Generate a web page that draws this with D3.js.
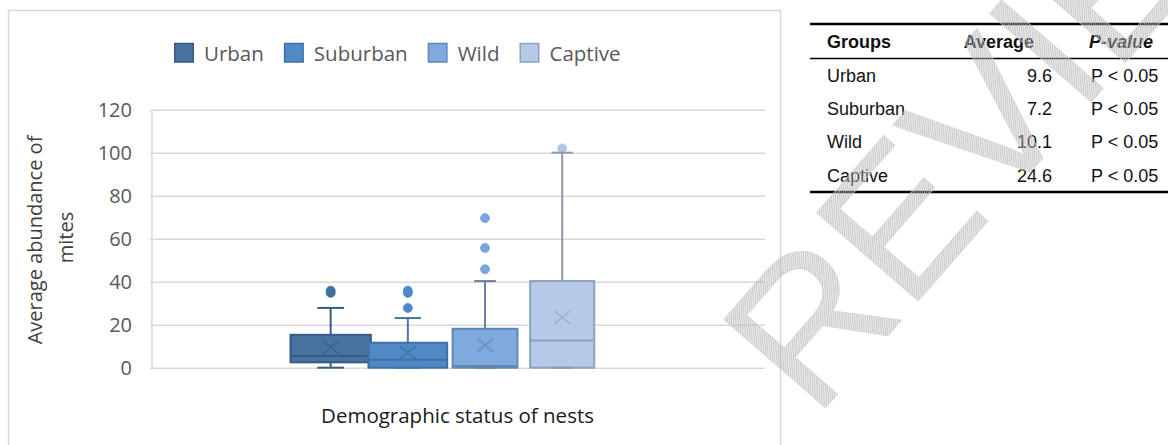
<!DOCTYPE html>
<html>
<head>
<meta charset="utf-8">
<script src="https://cdn.jsdelivr.net/npm/d3@7"></script>
<style>
  html, body { margin: 0; padding: 0; background: #fff; }
  svg { display: block; }
</style>
</head>
<body>
<svg id="chart" width="1168" height="445"></svg>
<script>
// ---------------- DATA ----------------
const categories   = ["Urban", "Suburban", "Wild", "Captive"];
const whiskerLow   = [0, 0, 0, 0];
const q1           = [2.5, 0, 0, 0];
const median       = [5.4, 3.7, 0.8, 12.6];
const q3           = [15.3, 11.6, 18.1, 40.3];
const whiskerHigh  = [27.8, 23.1, 40.3, 100];
const means        = [9.6, 7.0, 10.5, 23.4];
const outliers     = [[34.8, 35.8], [27.8, 34.8, 35.8], [45.8, 55.7, 69.6], [102]];
const yTicks       = [0, 20, 40, 60, 80, 100, 120];
const yTitleLines  = ["Average abundance of", "mites"];
const xTitle       = "Demographic status of nests";
const tableHeader  = ["Groups", "Average", "P-value"];
const tableAverages = ["9.6", "7.2", "10.1", "24.6"];
const tablePValues  = ["P < 0.05", "P < 0.05", "P < 0.05", "P < 0.05"];
const watermarkText = "REVIEW";

// ---------------- STYLE ----------------
const fills    = ["#46749f", "#4f8ac7", "#7eaadd", "#b5cae7"];
const strokes  = ["#335b86", "#3e70a4", "#6087b6", "#8da2bf"];
const whiskerC = ["#385d86", "#4a76a4", "#6a839f", "#8f9aa6"];
const meanC    = ["#3a6391", "#4373a9", "#6891c3", "#9bb1d0"];
const outFill  = ["#416f9c", "#4f88c4", "#79a5d8", "#b2c7e4"];
const boxWidthFactor = [1.04, 1.02, 0.84, 0.83];

const svg = d3.select("#chart");

// hatch pattern for watermark
const defs = svg.append("defs");
const pat = defs.append("pattern")
  .attr("id", "hatch").attr("patternUnits", "userSpaceOnUse")
  .attr("width", 3).attr("height", 3);
pat.append("path").attr("d", "M-1,1 L1,-1 M0,3 L3,0 M2,4 L4,2")
  .attr("stroke", "#b8b8b8").attr("stroke-width", 1.1);

// chart frame
svg.append("path")
  .attr("d", "M8.5,460 V10.5 H780.5 V460")
  .attr("fill", "none").attr("stroke", "#d9d9d9").attr("stroke-width", 1.5);

// plot area
const plot = { left: 150, right: 765, top: 110, bottom: 368 };
const plotW = plot.right - plot.left;

const y = d3.scaleLinear().domain([0, 120]).range([plot.bottom - 0.3, plot.top - 0.3]);
const x = d3.scaleBand().domain(categories)
  .range([plot.left + plotW * 0.231, plot.left + plotW * 0.733])
  .paddingInner(0).paddingOuter(0);

// y axis + gridlines
const yAxisG = svg.append("g").attr("transform", `translate(${plot.left},0)`)
  .call(d3.axisLeft(y).tickValues(yTicks).tickSize(-plotW).tickSizeOuter(0).tickPadding(18).tickFormat(d3.format("d")));
yAxisG.select(".domain").attr("stroke", "#d9d9d9").attr("stroke-width", 1.5).attr("transform", "translate(1.5,0)");
yAxisG.selectAll(".tick line").attr("stroke", "#d9d9d9").attr("stroke-width", 1.6);
yAxisG.selectAll(".tick text")
  .attr("fill", "#595959").attr("font-family", "'Open Sans', sans-serif").attr("font-size", 20);

// y title
const yTitle = svg.append("g").attr("transform", "translate(0,240)");
yTitle.append("text").text(yTitleLines[0])
  .attr("transform", "translate(41.5,0) rotate(-90)")
  .attr("text-anchor", "middle").attr("font-family", "'Open Sans', sans-serif")
  .attr("font-size", 20).attr("fill", "#404040");
yTitle.append("text").text(yTitleLines[1])
  .attr("transform", "translate(73,-2.5) rotate(-90)")
  .attr("text-anchor", "middle").attr("font-family", "'Open Sans', sans-serif")
  .attr("font-size", 20).attr("fill", "#404040");

// x title
svg.append("text").text(xTitle)
  .attr("x", (plot.left + plot.right) / 2).attr("y", 423)
  .attr("text-anchor", "middle").attr("font-family", "'Open Sans', sans-serif")
  .attr("font-size", 20.5).attr("fill", "#1a1a1a");

// boxes
const boxes = svg.append("g");
categories.forEach((c, i) => {
  const cx = x(c) + x.bandwidth() / 2;
  const bw = x.bandwidth() * boxWidthFactor[i];
  const capW = bw / 3;
  const g = boxes.append("g");
  g.append("line").attr("x1", cx).attr("x2", cx)
    .attr("y1", y(whiskerHigh[i])).attr("y2", y(q3[i]))
    .attr("stroke", whiskerC[i]).attr("stroke-width", 2);
  g.append("line").attr("x1", cx).attr("x2", cx)
    .attr("y1", y(q1[i])).attr("y2", y(whiskerLow[i]))
    .attr("stroke", whiskerC[i]).attr("stroke-width", 2);
  g.append("rect")
    .attr("x", cx - bw / 2).attr("width", bw)
    .attr("y", y(q3[i])).attr("height", y(q1[i]) - y(q3[i]))
    .attr("fill", fills[i]).attr("stroke", strokes[i]).attr("stroke-width", 2);
  g.append("line").attr("x1", cx - bw / 2).attr("x2", cx + bw / 2)
    .attr("y1", y(median[i])).attr("y2", y(median[i]))
    .attr("stroke", strokes[i]).attr("stroke-width", 2);
  const my = y(means[i]);
  g.append("path")
    .attr("d", `M${cx - 8},${my - 6.5} L${cx + 8},${my + 6.5} M${cx - 8},${my + 6.5} L${cx + 8},${my - 6.5}`)
    .attr("stroke", meanC[i]).attr("stroke-width", 1.6).attr("fill", "none");
  outliers[i].forEach(v => {
    g.append("circle").attr("cx", cx).attr("cy", y(v)).attr("r", 4.5)
      .attr("fill", outFill[i]).attr("stroke", outFill[i]).attr("stroke-width", 0.8);
  });
  g.append("line").attr("x1", cx - capW / 2).attr("x2", cx + capW / 2)
    .attr("y1", y(whiskerHigh[i])).attr("y2", y(whiskerHigh[i]))
    .attr("stroke", whiskerC[i]).attr("stroke-width", 2);
  g.append("line").attr("x1", cx - capW / 2).attr("x2", cx + capW / 2)
    .attr("y1", y(whiskerLow[i])).attr("y2", y(whiskerLow[i]))
    .attr("stroke", whiskerC[i]).attr("stroke-width", 2);
});

// legend
const legend = svg.append("g");
let lx = 174;
categories.forEach((c, i) => {
  legend.append("rect").attr("x", lx + 0.75).attr("y", 43.5).attr("width", 18.5).attr("height", 18.5)
    .attr("fill", fills[i]).attr("stroke", strokes[i]).attr("stroke-width", 1.5);
  const t = legend.append("text").text(c).attr("x", lx + 30).attr("y", 60.5)
    .attr("font-family", "'Open Sans', sans-serif").attr("font-size", 20.5).attr("fill", "#595959");
  lx = lx + 30 + t.node().getComputedTextLength() + 20;
});

// table
const tbl = svg.append("g").attr("font-family", "'Liberation Sans', Arial, sans-serif")
  .attr("font-size", 18).attr("fill", "#111");
tbl.append("line").attr("x1", 810).attr("x2", 1168).attr("y1", 24).attr("y2", 24)
  .attr("stroke", "#000").attr("stroke-width", 2.5);
tbl.append("line").attr("x1", 810).attr("x2", 1168).attr("y1", 58.5).attr("y2", 58.5)
  .attr("stroke", "#000").attr("stroke-width", 1.5);
tbl.append("line").attr("x1", 810).attr("x2", 1168).attr("y1", 192).attr("y2", 192)
  .attr("stroke", "#000").attr("stroke-width", 2.5);
tbl.append("text").text(tableHeader[0]).attr("x", 827).attr("y", 47.5).attr("font-weight", "bold");
tbl.append("text").text(tableHeader[1]).attr("x", 1034).attr("y", 47.5).attr("font-weight", "bold").attr("text-anchor", "end");
tbl.append("text").text(tableHeader[2]).attr("x", 1089).attr("y", 47.5).attr("font-weight", "bold").attr("font-style", "italic");
const rowY = d3.scalePoint().domain(categories).range([81.5, 181.5]);
categories.forEach((c, i) => {
  tbl.append("text").text(c).attr("x", 827).attr("y", rowY(c));
  tbl.append("text").text(tableAverages[i]).attr("x", 1052).attr("y", rowY(c)).attr("text-anchor", "end");
  tbl.append("text").text(tablePValues[i]).attr("x", 1091).attr("y", rowY(c));
});

// watermark
svg.append("text").text(watermarkText)
  .attr("transform", "translate(815,420) rotate(-49)")
  .attr("font-family", "'Liberation Sans', Arial, sans-serif")
  .attr("font-size", 196).attr("fill", "url(#hatch)")
  .attr("stroke", "#d2d2d2").attr("stroke-width", 0.8).attr("stroke-opacity", 0.7);
</script>
</body>
</html>
